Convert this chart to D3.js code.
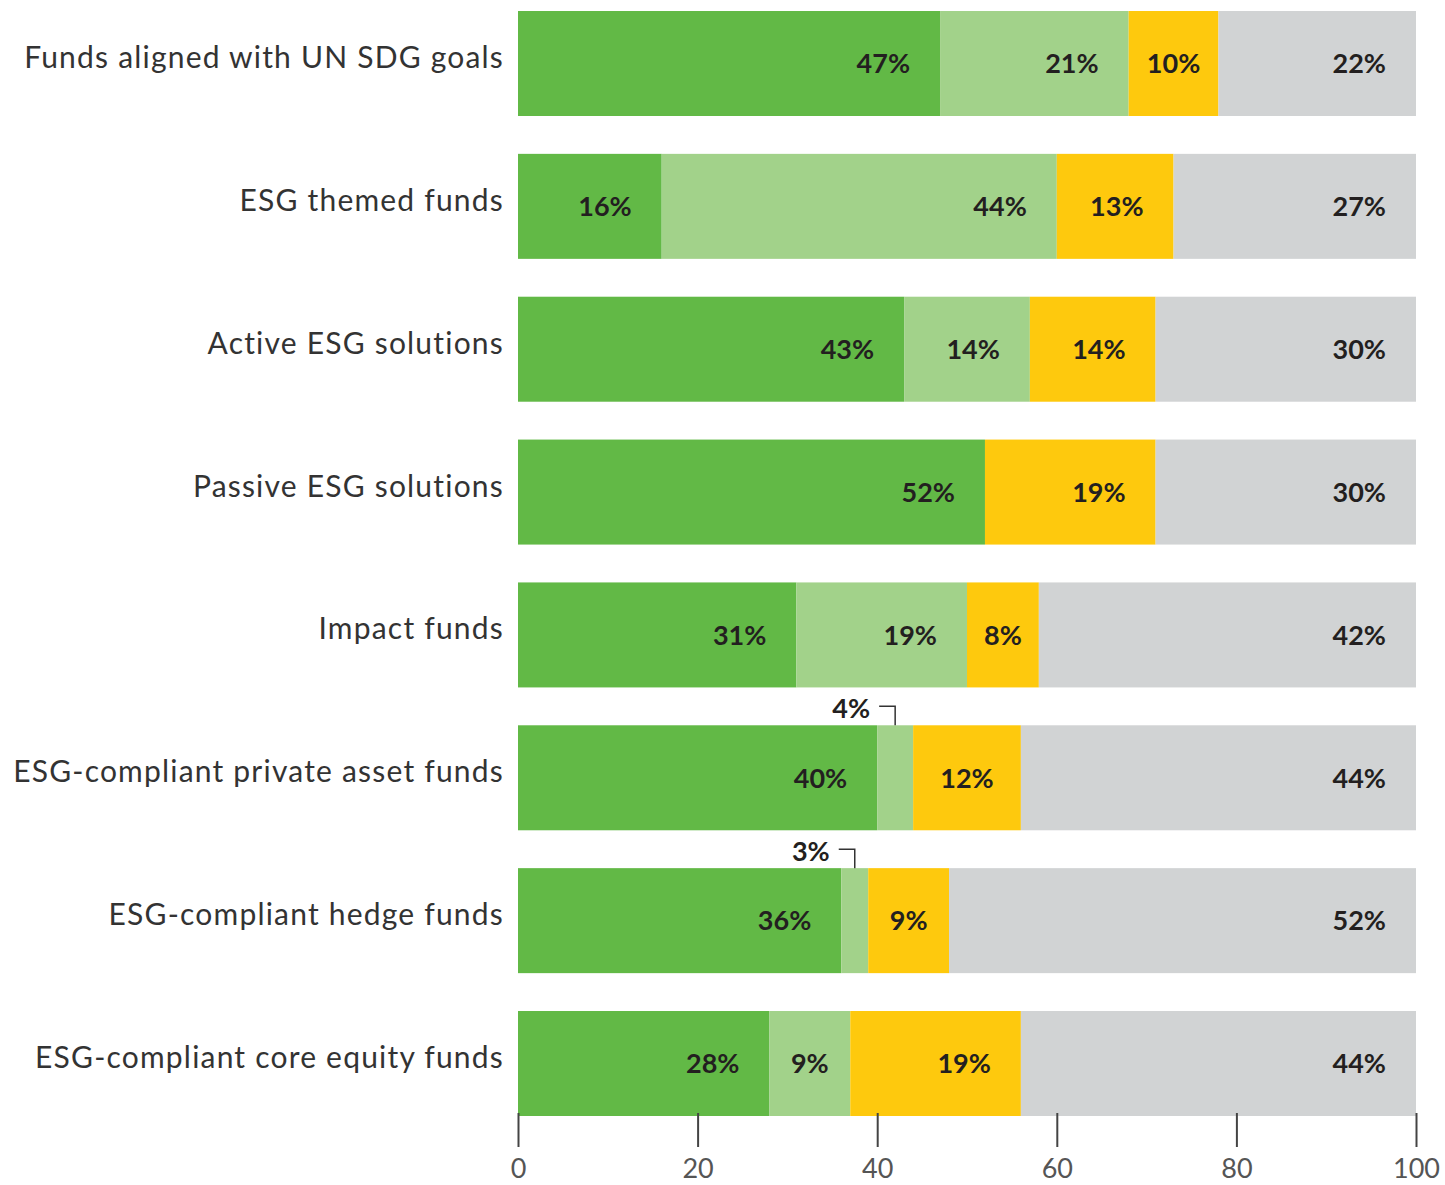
<!DOCTYPE html>
<html lang="en">
<head>
<meta charset="utf-8">
<script src="https://cdn.jsdelivr.net/npm/d3@7/dist/d3.min.js"></script>
<style>
    body { margin: 0; background: #fff; }
    .cat { font-family: Lato, sans-serif; font-weight: 400; font-size: 30px; letter-spacing: 1.2px; fill: #333; }
    .val { font-family: Lato, sans-serif; font-weight: 700; font-size: 27px; fill: #231f20; }
    .tick text { font-family: Lato, sans-serif; font-size: 27px; fill: #555; }
    .tick line { stroke: #444; stroke-width: 2px; }
</style>
</head>
<body>
<svg id="chart" width="1445" height="1185"></svg>
<script>
    var categories = [
        "Funds aligned with UN SDG goals",
        "ESG themed funds",
        "Active ESG solutions",
        "Passive ESG solutions",
        "Impact funds",
        "ESG-compliant private asset funds",
        "ESG-compliant hedge funds",
        "ESG-compliant core equity funds"
    ];
    var darkGreen = [47, 16, 43, 52, 31, 40, 36, 28];
    var lightGreen = [21, 44, 14, 0, 19, 4, 3, 9];
    var yellow = [10, 13, 14, 19, 8, 12, 9, 19];
    var grey = [22, 27, 30, 30, 42, 44, 52, 44];
    var xTicks = [0, 20, 40, 60, 80, 100];

    var keys = ["darkGreen", "lightGreen", "yellow", "grey"];
    var colors = {darkGreen: "#62b946", lightGreen: "#a2d28a", yellow: "#fec90d", grey: "#d1d3d4"};

    var rows = categories.map(function(c, i) {
        return {cat: c, darkGreen: darkGreen[i], lightGreen: lightGreen[i], yellow: yellow[i], grey: grey[i]};
    });

    var svg = d3.select("#chart");

    var x = d3.scaleLinear().domain([0, 100]).range([518, 1416]).clamp(true);
    var y = d3.scaleBand().domain(categories).range([11, 1116]).paddingInner(0.265).paddingOuter(0);

    var series = d3.stack().keys(keys)(rows);

    var layers = svg.append("g").selectAll("g")
        .data(series)
        .join("g")
        .attr("fill", d => colors[d.key]);

    layers.selectAll("rect")
        .data(d => d)
        .join("rect")
        .attr("x", d => x(d[0]))
        .attr("y", d => y(d.data.cat))
        .attr("width", d => Math.max(0, x(d[1]) - x(d[0])))
        .attr("height", y.bandwidth());

    // value labels
    var labels = svg.append("g");
    series.forEach(function(s) {
        s.forEach(function(d) {
            var v = d.data[s.key];
            if (!v) return;
            var x0 = x(d[0]), x1 = x(d[1]);
            var top = y(d.data.cat);
            var mid = (x0 + x1) / 2;
            if (v < 5) {
                // small slice: label sits above the bar with a leader
                labels.append("text")
                    .attr("class", "val")
                    .attr("text-anchor", "end")
                    .attr("x", mid - 25)
                    .attr("y", top - 17)
                    .attr("dy", "0.35em")
                    .text(v + "%");
                labels.append("path")
                    .attr("d", "M" + (mid - 16) + "," + (top - 19) + "H" + mid + "V" + top)
                    .attr("fill", "none")
                    .attr("stroke", "#333")
                    .attr("stroke-width", 1.5);
                return;
            }
            var t = labels.append("text")
                .attr("class", "val")
                .attr("text-anchor", "end")
                .attr("y", top + y.bandwidth() / 2)
                .attr("dy", "0.36em")
                .text(v + "%");
            var w = t.node().getComputedTextLength();
            t.attr("x", Math.max(mid + w / 2, x1 - 30));
        });
    });

    // category labels
    svg.append("g").selectAll("text")
        .data(categories)
        .join("text")
        .attr("class", "cat")
        .attr("text-anchor", "end")
        .attr("x", 504)
        .attr("y", d => y(d) + y.bandwidth() / 2 - 6)
        .attr("dy", "0.35em")
        .text(d => d);

    // x axis, ticks only
    var axis = svg.append("g")
        .attr("transform", "translate(0,1113)")
        .call(d3.axisBottom(x).tickValues(xTicks).tickSize(34).tickPadding(12));
    axis.select(".domain").remove();
</script>
</body>
</html>
